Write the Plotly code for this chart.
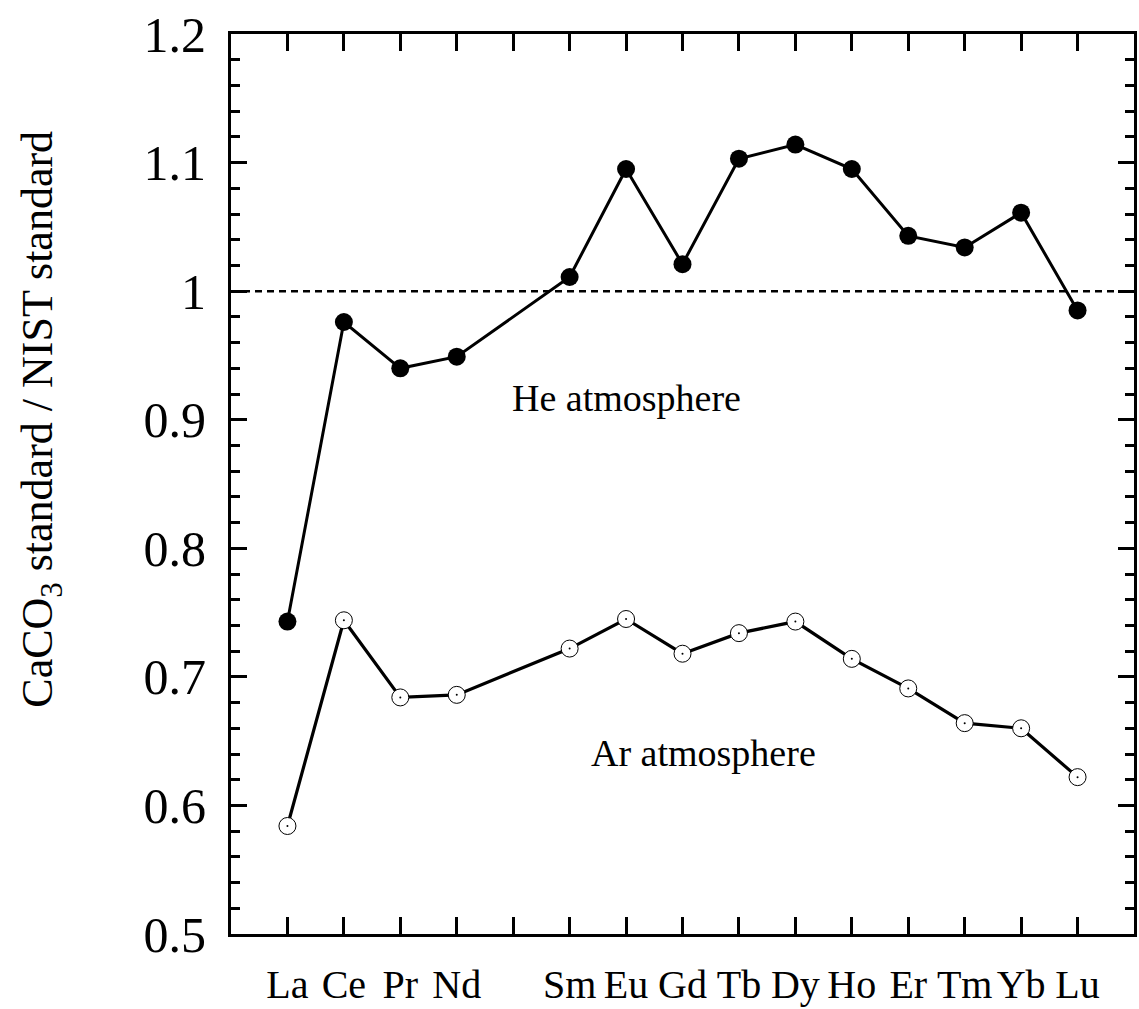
import plotly.graph_objects as go

elements = ["La", "Ce", "Pr", "Nd", "Pm", "Sm", "Eu", "Gd", "Tb", "Dy", "Ho", "Er", "Tm", "Yb", "Lu"]
x_pos = list(range(1, 16))

he_elements = ["La", "Ce", "Pr", "Nd", "Sm", "Eu", "Gd", "Tb", "Dy", "Ho", "Er", "Tm", "Yb", "Lu"]
he_values = [0.743, 0.976, 0.940, 0.949, 1.011, 1.095, 1.021, 1.103, 1.114, 1.095, 1.043, 1.034, 1.061, 0.985]
ar_values = [0.584, 0.744, 0.684, 0.686, 0.722, 0.745, 0.718, 0.734, 0.743, 0.714, 0.691, 0.664, 0.660, 0.622]

y_ticks = [0.5, 0.6, 0.7, 0.8, 0.9, 1.0, 1.1, 1.2]
y_tick_text = ["0.5", "0.6", "0.7", "0.8", "0.9", "1", "1.1", "1.2"]

he_x = [x_pos[elements.index(e)] for e in he_elements]

FONT = "Liberation Serif, Times New Roman, serif"

fig = go.Figure()
fig.add_trace(go.Scatter(
    x=he_x, y=he_values, mode="lines+markers", name="He atmosphere",
    line=dict(color="black", width=3),
    marker=dict(symbol="circle", size=18, color="black"),
))
fig.add_trace(go.Scatter(
    x=he_x, y=ar_values, mode="lines+markers", name="Ar atmosphere",
    line=dict(color="black", width=3.2),
    marker=dict(symbol="circle", size=17, color="white", line=dict(color="black", width=1)),
))
fig.add_trace(go.Scatter(
    x=he_x, y=ar_values, mode="markers", hoverinfo="skip",
    marker=dict(symbol="circle", size=2, color="black"),
))

fig.add_shape(type="line", xref="paper", yref="y", x0=0, x1=1, y0=1.0, y1=1.0,
              line=dict(color="black", width=2.5, dash="7px,5px"), layer="below")

fig.add_annotation(x=7.01, y=0.917, text="He atmosphere", showarrow=False,
                   font=dict(family=FONT, size=38, color="black"))
fig.add_annotation(x=8.37, y=0.641, text="Ar atmosphere", showarrow=False,
                   font=dict(family=FONT, size=38, color="black"))

fig.add_annotation(xref="paper", yref="paper", x=-0.211, y=0.572,
                   text="CaCO<sub>3</sub> standard / NIST standard", textangle=-90,
                   showarrow=False, xanchor="center", yanchor="middle",
                   font=dict(family=FONT, size=44, color="black"))

fig.update_layout(
    width=1139, height=1009,
    margin=dict(l=231, r=2, t=34, b=69),
    paper_bgcolor="white", plot_bgcolor="white",
    showlegend=False,
    font=dict(family=FONT, color="black"),
    xaxis=dict(
        range=[0, 16], tickmode="array", tickvals=he_x, ticktext=he_elements,
        ticks="inside", ticklen=17, tickwidth=2.5, tickcolor="black",
        minor=dict(tick0=0, dtick=1, ticks="inside", ticklen=17, tickwidth=2.5, tickcolor="black"),
        showline=True, linewidth=3, linecolor="black", mirror="ticks",
        showgrid=False, zeroline=False,
        tickfont=dict(family=FONT, size=40, color="black"),
        ticklabelstandoff=13,
    ),
    yaxis=dict(
        range=[0.5, 1.2], tickmode="array",
        tickvals=y_ticks, ticktext=y_tick_text,
        ticks="inside", ticklen=16, tickwidth=2.5, tickcolor="black",
        minor=dict(dtick=0.02, ticks="inside", ticklen=9, tickwidth=2.5, tickcolor="black"),
        showline=True, linewidth=3, linecolor="black", mirror="ticks",
        showgrid=False, zeroline=False,
        tickfont=dict(family=FONT, size=50, color="black"),
        ticklabelstandoff=12,
    ),
)

fig.write_html("out.html")
